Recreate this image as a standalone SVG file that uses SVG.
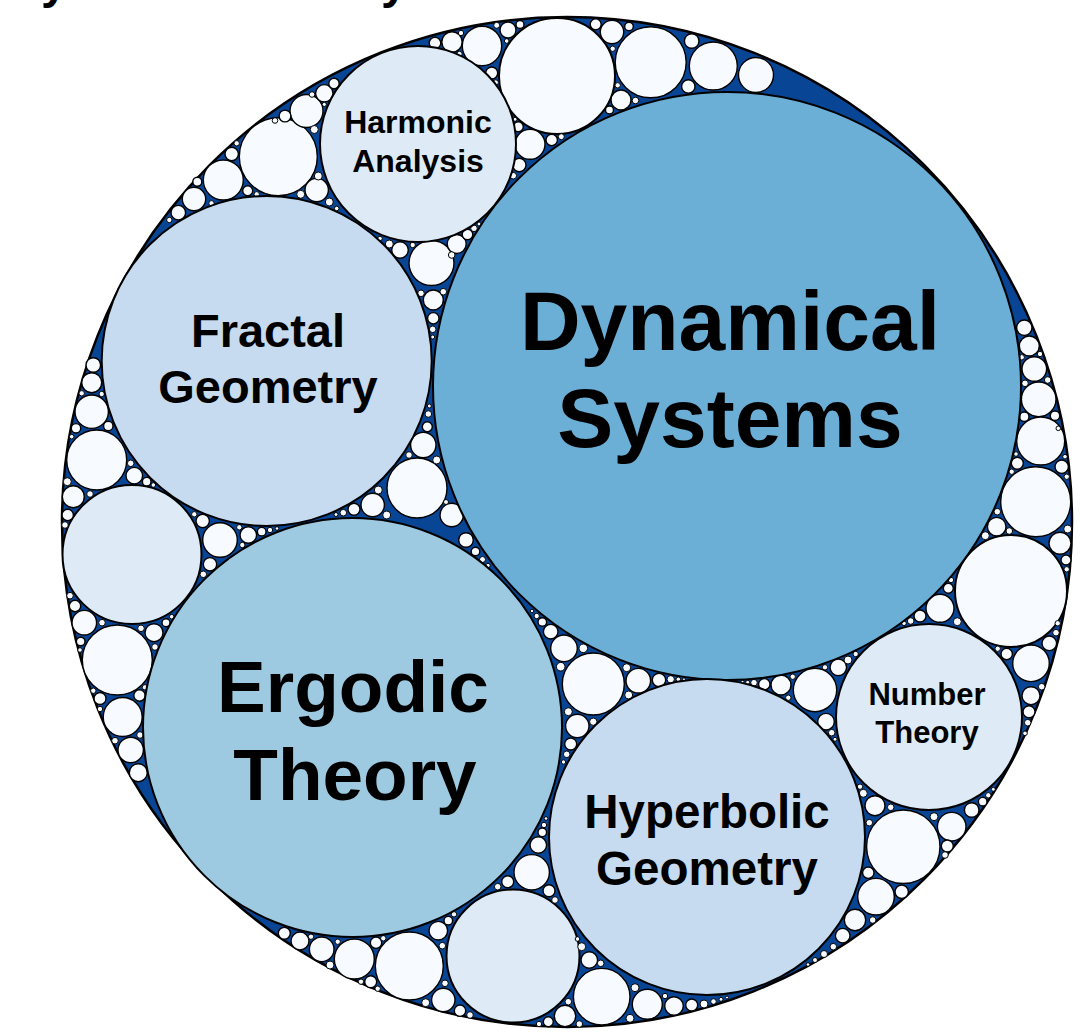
<svg xmlns="http://www.w3.org/2000/svg" width="1092" height="1033" viewBox="0 0 1092 1033">
  <style>
    .outer { fill: #084594; stroke: #000; stroke-width: 2.5; }
    .node { stroke: #000; stroke-width: 2; }
    .f0 { fill: #f7fbff; }
    .f1 { fill: #deebf7; }
    .f2 { fill: #c6dbef; }
    .f3 { fill: #9ecae1; }
    .f4 { fill: #6baed6; }
    .fill circle { fill: #f7fbff; stroke: #000; stroke-width: 1.4; }
    .fill .s circle { stroke-width: 1; }
    .lbl { font-family: "Liberation Sans", Arial, sans-serif; font-weight: bold; fill: #000; text-anchor: middle; }
    .title { font-family: "Liberation Sans", Arial, sans-serif; font-weight: bold; font-size: 48px; fill: #000; }
  </style>
  <rect width="1092" height="1033" fill="#fff"/>

  <!-- title line, mostly above the top edge -->
  <text class="title" x="41" y="-2">y</text>
  <text class="title" x="381" y="-2">y</text>

  <!-- enclosing circle -->
  <circle class="outer" cx="567" cy="522" r="505"/>

  <!-- unlabelled filler circles -->
  <g id="fillers" class="fill">
    <circle cx="132" cy="554.5" r="69.5" style="fill:#deebf7;stroke-width:2"/>
    <circle cx="513" cy="956" r="66.5" style="fill:#deebf7;stroke-width:2"/>
    <circle cx="557" cy="76" r="58" style="stroke-width:2"/>
    <circle cx="1011" cy="591" r="56" style="stroke-width:2"/>

    <!-- top arc -->
    <circle cx="435" cy="43" r="5.8"/>
    <circle cx="452" cy="42" r="10.2"/>
    <circle cx="482" cy="46" r="19.7"/>
    <circle cx="508" cy="30" r="8"/>
    <circle cx="520" cy="24.5" r="4"/>
    <circle cx="491.7" cy="73" r="6"/>
    <circle cx="530" cy="144.3" r="15"/>
    <circle cx="518.3" cy="126.7" r="5"/>
    <circle cx="551.7" cy="140" r="5.7"/>
    <circle cx="519.3" cy="165" r="6.7"/>
    <circle cx="595.7" cy="24.3" r="5.5"/>
    <circle cx="612" cy="32" r="11.7"/>
    <circle cx="629" cy="26.5" r="4.3"/>
    <circle cx="621" cy="100" r="10"/>
    <circle cx="609.5" cy="110" r="4"/>
    <circle cx="650.7" cy="62.3" r="35.5"/>
    <circle cx="713.3" cy="66" r="24"/>
    <circle cx="756" cy="75" r="17.5"/>
    <circle cx="691.7" cy="41" r="7.3"/>
    <circle cx="688.3" cy="86.5" r="6.7"/>
    <g class="s">
      <circle cx="496.7" cy="25.3" r="3"/>
      <circle cx="461" cy="33" r="2.7"/>
      <circle cx="459.5" cy="54" r="2.7"/>
      <circle cx="506.7" cy="41" r="2.3"/>
      <circle cx="495.7" cy="82.5" r="2.7"/>
      <circle cx="515" cy="119.3" r="2"/>
      <circle cx="561.3" cy="136.7" r="3"/>
      <circle cx="513.3" cy="175.7" r="3.3"/>
      <circle cx="612.7" cy="48.7" r="2.7"/>
      <circle cx="635.5" cy="100.5" r="3.3"/>
      <circle cx="617.7" cy="85.3" r="2.7"/>
    </g>

    <!-- upper left arc -->
    <circle cx="278.3" cy="156.7" r="39"/>
    <circle cx="306.5" cy="111" r="16.5"/>
    <circle cx="285" cy="116" r="5.9"/>
    <circle cx="324.3" cy="93.3" r="8.7"/>
    <circle cx="334" cy="83.5" r="5.2"/>
    <circle cx="316.7" cy="190" r="11.7"/>
    <circle cx="223.3" cy="180" r="20"/>
    <circle cx="231.7" cy="154" r="6.7"/>
    <circle cx="194" cy="199" r="11.7"/>
    <circle cx="178.3" cy="212.7" r="7.3"/>
    <circle cx="247.7" cy="190.7" r="5"/>
    <circle cx="197.3" cy="181.7" r="4.5"/>
    <g class="s">
      <circle cx="275" cy="120.5" r="2.8"/>
      <circle cx="312" cy="94.5" r="2.8"/>
      <circle cx="324.3" cy="104.4" r="2.1"/>
      <circle cx="314.3" cy="129.5" r="4"/>
      <circle cx="318.3" cy="176" r="4"/>
      <circle cx="329.3" cy="202" r="4"/>
      <circle cx="336.7" cy="208.5" r="2.3"/>
      <circle cx="300.7" cy="194.3" r="4"/>
      <circle cx="236.7" cy="143.3" r="2.7"/>
      <circle cx="169.3" cy="220" r="2.7"/>
      <circle cx="256.7" cy="194.3" r="2.7"/>
      <circle cx="211.5" cy="203.3" r="2.7"/>
    </g>

    <!-- between harmonic, fractal and dynamical -->
    <circle cx="431.5" cy="263" r="22.5"/>
    <circle cx="433.3" cy="300" r="10"/>
    <circle cx="433.3" cy="318.3" r="5.7"/>
    <circle cx="400" cy="250" r="8.3"/>
    <circle cx="456.7" cy="244" r="9.5"/>
    <circle cx="467.5" cy="234.5" r="5.3"/>
    <g class="s">
      <circle cx="432.7" cy="329.3" r="3.3"/>
      <circle cx="432.7" cy="337" r="2"/>
      <circle cx="389.3" cy="244" r="4"/>
      <circle cx="380" cy="238.5" r="2.3"/>
      <circle cx="412.7" cy="245" r="2.7"/>
      <circle cx="474" cy="228.3" r="3.3"/>
      <circle cx="479" cy="224" r="2"/>
      <circle cx="443.3" cy="291.7" r="3.3"/>
      <circle cx="451.7" cy="255" r="3.3"/>
      <circle cx="421" cy="293.3" r="3.3"/>
    </g>

    <!-- between fractal, dynamical and ergodic -->
    <circle cx="417" cy="488" r="30"/>
    <circle cx="423.3" cy="445" r="12.7"/>
    <circle cx="427.3" cy="426.7" r="5"/>
    <circle cx="372.7" cy="505" r="11.7"/>
    <circle cx="354" cy="509.3" r="6"/>
    <circle cx="451.7" cy="515" r="11.7"/>
    <circle cx="466" cy="540" r="7.3"/>
    <circle cx="475.5" cy="551.5" r="4.3"/>
    <g class="s">
      <circle cx="428.3" cy="414" r="3.3"/>
      <circle cx="429.3" cy="406" r="2"/>
      <circle cx="409" cy="455" r="3.3"/>
      <circle cx="436.7" cy="460" r="4"/>
      <circle cx="343.3" cy="512.7" r="3.3"/>
      <circle cx="336" cy="514.5" r="2"/>
      <circle cx="378.3" cy="490" r="4"/>
      <circle cx="386.7" cy="515" r="4"/>
      <circle cx="446" cy="502" r="2.5"/>
      <circle cx="482.5" cy="559.5" r="3"/>
      <circle cx="488" cy="565.5" r="2.2"/>
    </g>

    <!-- between fractal, ergodic and left circle -->
    <circle cx="202.7" cy="521" r="6.7"/>
    <circle cx="220" cy="540" r="17.3"/>
    <circle cx="210" cy="564.3" r="6.7"/>
    <circle cx="248.3" cy="535" r="8.3"/>
    <circle cx="261.7" cy="531.7" r="4.3"/>
    <g class="s">
      <circle cx="203.3" cy="574.3" r="3.3"/>
      <circle cx="194.3" cy="514.3" r="2.7"/>
      <circle cx="239.3" cy="527.3" r="2.7"/>
      <circle cx="270" cy="530" r="2.7"/>
      <circle cx="242.3" cy="545" r="2.7"/>
      <circle cx="277" cy="528.5" r="1.8"/>
    </g>

    <!-- left arc -->
    <circle cx="93.3" cy="365" r="7.3"/>
    <circle cx="91.7" cy="382.7" r="10"/>
    <circle cx="91.7" cy="411.7" r="16.7"/>
    <circle cx="96.7" cy="460" r="30"/>
    <circle cx="73.3" cy="496.7" r="11"/>
    <circle cx="67.7" cy="515" r="5.7"/>
    <circle cx="108.3" cy="426" r="4.7"/>
    <circle cx="76" cy="428.3" r="4.7"/>
    <circle cx="134.3" cy="475.7" r="8.3"/>
    <circle cx="146.7" cy="481.7" r="4.3"/>
    <circle cx="75" cy="606" r="5.7"/>
    <circle cx="84.3" cy="622.7" r="12.3"/>
    <circle cx="117.3" cy="660" r="35"/>
    <circle cx="80.7" cy="641.5" r="4.3"/>
    <circle cx="154" cy="632.7" r="9"/>
    <circle cx="166" cy="622.7" r="4"/>
    <circle cx="100" cy="698.5" r="6"/>
    <circle cx="139.5" cy="695.5" r="5.7"/>
    <circle cx="122.7" cy="717" r="19.5"/>
    <circle cx="130.7" cy="750" r="12.7"/>
    <circle cx="138.3" cy="772.7" r="9"/>
    <g class="s">
      <circle cx="65" cy="525" r="3.3"/>
      <circle cx="67.3" cy="481.7" r="4"/>
      <circle cx="81.7" cy="393.3" r="2.7"/>
      <circle cx="101.7" cy="394" r="2.7"/>
      <circle cx="71.7" cy="436.7" r="2.3"/>
      <circle cx="130.7" cy="463.3" r="3.3"/>
      <circle cx="153.3" cy="485" r="2.3"/>
      <circle cx="90" cy="494" r="3.3"/>
      <circle cx="70" cy="595.7" r="3.3"/>
      <circle cx="80" cy="650" r="2.3"/>
      <circle cx="102" cy="622.7" r="3.3"/>
      <circle cx="141" cy="628.3" r="3.3"/>
      <circle cx="171.7" cy="616.7" r="2.3"/>
      <circle cx="155" cy="647" r="3.3"/>
      <circle cx="145" cy="687.3" r="2.7"/>
      <circle cx="93.3" cy="690.7" r="2.7"/>
      <circle cx="100" cy="709" r="2.7"/>
      <circle cx="115" cy="740.7" r="3.3"/>
      <circle cx="140" cy="735" r="3.3"/>
    </g>

    <!-- bottom arc -->
    <circle cx="531.7" cy="872.3" r="17.7"/>
    <circle cx="538.3" cy="845" r="8.3"/>
    <circle cx="542.3" cy="832.3" r="4.3"/>
    <circle cx="507.7" cy="881.7" r="6"/>
    <circle cx="549" cy="890.7" r="6"/>
    <circle cx="409.3" cy="966" r="34"/>
    <circle cx="438.3" cy="930.7" r="9.3"/>
    <circle cx="448.3" cy="920.7" r="4.3"/>
    <circle cx="376" cy="942.7" r="5.7"/>
    <circle cx="354.3" cy="959" r="20"/>
    <circle cx="321.7" cy="949.3" r="12.3"/>
    <circle cx="300" cy="941" r="9"/>
    <circle cx="284.3" cy="933.3" r="6"/>
    <circle cx="370.7" cy="981.7" r="6"/>
    <circle cx="443.3" cy="1000" r="11.7"/>
    <circle cx="460" cy="1010.7" r="5.7"/>
    <circle cx="565" cy="1016" r="10.7"/>
    <circle cx="548.3" cy="1021.7" r="5"/>
    <circle cx="601.7" cy="996.7" r="28.3"/>
    <circle cx="589.3" cy="960" r="8.3"/>
    <circle cx="647.3" cy="1004.3" r="15"/>
    <circle cx="674" cy="1006" r="9.3"/>
    <circle cx="691.7" cy="1005" r="6"/>
    <g class="s">
      <circle cx="544" cy="825" r="2.7"/>
      <circle cx="546" cy="818.5" r="1.8"/>
      <circle cx="497.7" cy="886.7" r="3.3"/>
      <circle cx="555" cy="900" r="3.3"/>
      <circle cx="454" cy="914.3" r="2.7"/>
      <circle cx="442.3" cy="945.7" r="3.3"/>
      <circle cx="383.3" cy="938.3" r="2.7"/>
      <circle cx="311" cy="936.7" r="2.7"/>
      <circle cx="330" cy="965" r="4"/>
      <circle cx="337.7" cy="941.7" r="2.7"/>
      <circle cx="377.7" cy="988.7" r="2.7"/>
      <circle cx="361" cy="981.7" r="2.7"/>
      <circle cx="470" cy="1015" r="3.3"/>
      <circle cx="425.7" cy="1002.7" r="4"/>
      <circle cx="445" cy="983.3" r="3.3"/>
      <circle cx="539" cy="1024" r="2.7"/>
      <circle cx="579.3" cy="1024" r="3.3"/>
      <circle cx="581.7" cy="946.7" r="4"/>
      <circle cx="577.5" cy="939" r="2.3"/>
      <circle cx="600.7" cy="963.3" r="3.3"/>
      <circle cx="568.3" cy="1001.7" r="3.3"/>
      <circle cx="630" cy="1018.3" r="4"/>
      <circle cx="635" cy="987.7" r="4"/>
      <circle cx="704" cy="1004" r="4"/>
      <circle cx="665" cy="996" r="2.7"/>
      <circle cx="713.5" cy="1001.5" r="2.8"/>
      <circle cx="721" cy="999.3" r="2"/>
      <circle cx="727" cy="997.5" r="1.5"/>
    </g>

    <!-- lower right arc -->
    <circle cx="903.3" cy="846.7" r="36.7"/>
    <circle cx="951.7" cy="826.7" r="14.3"/>
    <circle cx="971.7" cy="810" r="7.3"/>
    <circle cx="875" cy="805.7" r="10"/>
    <circle cx="947.3" cy="846" r="6"/>
    <circle cx="901.7" cy="891.7" r="6.7"/>
    <circle cx="876" cy="896.7" r="18.3"/>
    <circle cx="855" cy="920" r="10.7"/>
    <circle cx="842.7" cy="935.7" r="7.3"/>
    <circle cx="868.3" cy="872.7" r="5.7"/>
    <circle cx="982.7" cy="801.7" r="4.3"/>
    <g class="s">
      <circle cx="833.3" cy="946.7" r="3.3"/>
      <circle cx="869.3" cy="822.7" r="3.3"/>
      <circle cx="863.3" cy="793.3" r="4"/>
      <circle cx="860" cy="786.7" r="2.7"/>
      <circle cx="890.7" cy="807.3" r="3.3"/>
      <circle cx="934" cy="816.7" r="4"/>
      <circle cx="988.3" cy="795.3" r="2.7"/>
      <circle cx="993.3" cy="789.3" r="2"/>
      <circle cx="945" cy="855" r="3.3"/>
      <circle cx="872.7" cy="920" r="3.3"/>
      <circle cx="824" cy="954" r="3.5"/>
      <circle cx="815" cy="960" r="2.5"/>
      <circle cx="808" cy="964.5" r="1.8"/>
    </g>

    <!-- between dynamical, hyperbolic and number theory -->
    <circle cx="815" cy="690" r="21.7"/>
    <circle cx="838.3" cy="667.3" r="8.3"/>
    <circle cx="826" cy="721.7" r="8.3"/>
    <circle cx="781" cy="685" r="10"/>
    <circle cx="764.3" cy="684.3" r="5.7"/>
    <circle cx="940" cy="608.3" r="14"/>
    <circle cx="920" cy="616" r="6"/>
    <circle cx="948.3" cy="588.3" r="5"/>
    <g class="s">
      <circle cx="754" cy="682.7" r="3.3"/>
      <circle cx="747.7" cy="682.3" r="2"/>
      <circle cx="742.5" cy="681.7" r="1.5"/>
      <circle cx="848" cy="660" r="4"/>
      <circle cx="855.7" cy="654" r="2.7"/>
      <circle cx="831.7" cy="732.7" r="3.3"/>
      <circle cx="835" cy="739.3" r="2"/>
      <circle cx="825" cy="667.3" r="2.7"/>
      <circle cx="788.3" cy="697.7" r="2.7"/>
      <circle cx="792.7" cy="676.7" r="2.7"/>
      <circle cx="951" cy="580" r="2.7"/>
      <circle cx="957.3" cy="621.7" r="4"/>
      <circle cx="910.7" cy="621" r="3.3"/>
      <circle cx="904" cy="623.3" r="2.3"/>
    </g>

    <!-- right arc -->
    <circle cx="1031" cy="663.3" r="18.3"/>
    <circle cx="1049.3" cy="643.3" r="7.3"/>
    <circle cx="1006.7" cy="654" r="5.7"/>
    <circle cx="1031" cy="695.7" r="9"/>
    <circle cx="1029" cy="711.7" r="6"/>
    <circle cx="1024.3" cy="327.7" r="7.7"/>
    <circle cx="1029.3" cy="346" r="10"/>
    <circle cx="1034.3" cy="369" r="12.3"/>
    <circle cx="1038.7" cy="399.3" r="17.3"/>
    <circle cx="1040.7" cy="441" r="24"/>
    <circle cx="1035.7" cy="501.7" r="35"/>
    <circle cx="1060" cy="543.3" r="11"/>
    <circle cx="1066" cy="560" r="5"/>
    <circle cx="1024.3" cy="416.7" r="4.7"/>
    <circle cx="1055" cy="415.7" r="4.7"/>
    <circle cx="1017.3" cy="463.3" r="6"/>
    <circle cx="1061.7" cy="466.7" r="6.7"/>
    <circle cx="996.7" cy="526.7" r="9.3"/>
    <g class="s">
      <circle cx="1056" cy="632.7" r="3.3"/>
      <circle cx="997.7" cy="648.7" r="2.7"/>
      <circle cx="1027.7" cy="722.7" r="3.3"/>
      <circle cx="1041.7" cy="686.7" r="3.3"/>
      <circle cx="1025" cy="733.3" r="2.3"/>
      <circle cx="1057.7" cy="623.3" r="2.7"/>
      <circle cx="1066.7" cy="569.3" r="2.7"/>
      <circle cx="1021.7" cy="357.3" r="2.7"/>
      <circle cx="1040" cy="354" r="2.7"/>
      <circle cx="1025" cy="383.3" r="3.3"/>
      <circle cx="1047.7" cy="380" r="3.3"/>
      <circle cx="1011.7" cy="471.7" r="2.7"/>
      <circle cx="1066.7" cy="476.7" r="2.7"/>
      <circle cx="1016" cy="454" r="2.3"/>
      <circle cx="1065" cy="456.7" r="2.3"/>
      <circle cx="1058.3" cy="428.3" r="2.3"/>
      <circle cx="997.3" cy="511.7" r="3.3"/>
      <circle cx="1009.3" cy="531" r="3.3"/>
      <circle cx="985.3" cy="535.7" r="4"/>
      <circle cx="1067.7" cy="529" r="4"/>
    </g>

    <!-- between dynamical, ergodic and hyperbolic -->
    <circle cx="593.3" cy="684" r="31"/>
    <circle cx="564" cy="648.3" r="13.3"/>
    <circle cx="550.7" cy="631.7" r="7.3"/>
    <circle cx="542.3" cy="622" r="4.3"/>
    <circle cx="577.3" cy="726" r="11.7"/>
    <circle cx="570.7" cy="744" r="6"/>
    <circle cx="638.3" cy="680.7" r="12.3"/>
    <circle cx="659" cy="680" r="6.7"/>
    <g class="s">
      <circle cx="536.7" cy="616" r="2.7"/>
      <circle cx="532" cy="611" r="1.8"/>
      <circle cx="566.7" cy="754.3" r="3.3"/>
      <circle cx="563.5" cy="762" r="2.2"/>
      <circle cx="670.7" cy="679.3" r="3.7"/>
      <circle cx="678.3" cy="679.3" r="2.3"/>
      <circle cx="684" cy="679.3" r="1.5"/>
      <circle cx="626.7" cy="667.7" r="4"/>
      <circle cx="628.7" cy="695" r="4"/>
      <circle cx="583.3" cy="648.3" r="4.3"/>
      <circle cx="560.7" cy="666.7" r="4.3"/>
      <circle cx="568.3" cy="711.7" r="4"/>
      <circle cx="593.3" cy="721.7" r="3.7"/>
    </g>
  </g>

  <!-- labelled fields -->
  <g id="dynamical-systems">
    <circle class="node f4" cx="727" cy="386" r="294"/>
    <text class="lbl" x="730" y="350" font-size="84">Dynamical</text>
    <text class="lbl" x="730" y="447" font-size="84">Systems</text>
  </g>
  <g id="ergodic-theory">
    <circle class="node f3" cx="352.5" cy="727.5" r="209.5"/>
    <text class="lbl" x="353" y="712" font-size="73">Ergodic</text>
    <text class="lbl" x="355" y="800" font-size="73">Theory</text>
  </g>
  <g id="fractal-geometry">
    <circle class="node f2" cx="266.7" cy="361" r="165"/>
    <text class="lbl" x="268" y="347" font-size="47">Fractal</text>
    <text class="lbl" x="268" y="403" font-size="47">Geometry</text>
  </g>
  <g id="harmonic-analysis">
    <circle class="node f1" cx="418" cy="144" r="98"/>
    <text class="lbl" x="418" y="133" font-size="32">Harmonic</text>
    <text class="lbl" x="418" y="172" font-size="32">Analysis</text>
  </g>
  <g id="hyperbolic-geometry">
    <circle class="node f2" cx="707" cy="837" r="158"/>
    <text class="lbl" x="707" y="828" font-size="47.5">Hyperbolic</text>
    <text class="lbl" x="707" y="885" font-size="47.5">Geometry</text>
  </g>
  <g id="number-theory">
    <circle class="node f1" cx="929" cy="717" r="93"/>
    <text class="lbl" x="927" y="705" font-size="31">Number</text>
    <text class="lbl" x="927" y="743" font-size="31">Theory</text>
  </g>

  <g id="connectors"/>
</svg>
